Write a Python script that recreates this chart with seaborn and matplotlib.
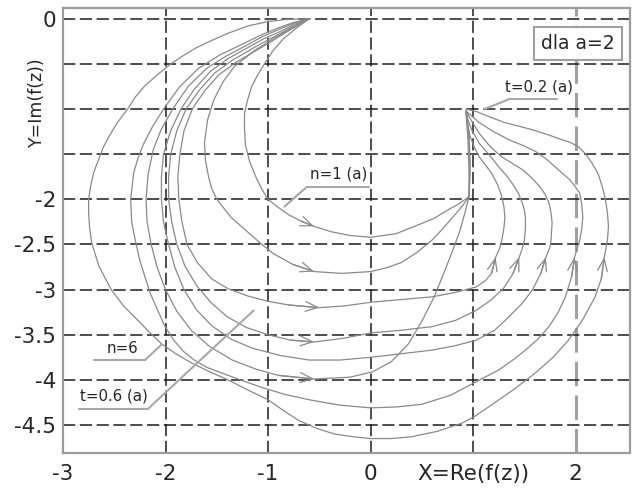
import matplotlib
matplotlib.use("Agg")
import matplotlib.pyplot as plt
import pandas as pd
import seaborn as sns

# Trajectories of f(z) in the complex plane, from the innermost loop (n=1) outwards
traj1_re = [-0.60, -0.72, -0.85, -0.95, -1.03, -1.10, -1.16, -1.20, -1.23, -1.23, -1.22, -1.18, -1.12, -1.06, -1.00, -0.90, -0.80, -0.68, -0.55, -0.38, -0.20, 0.00, 0.25, 0.47, 0.62, 0.75, 0.86, 0.96, 0.96, 0.95, 0.93]
traj1_im = [0.00, -0.10, -0.22, -0.35, -0.49, -0.62, -0.75, -0.90, -1.05, -1.22, -1.40, -1.58, -1.75, -1.89, -2.00, -2.09, -2.17, -2.24, -2.30, -2.36, -2.40, -2.42, -2.38, -2.28, -2.21, -2.12, -2.05, -1.97, -1.70, -1.35, -1.02]

traj2_re = [-0.60, -0.75, -0.92, -1.13, -1.33, -1.44, -1.53, -1.59, -1.62, -1.61, -1.58, -1.55, -1.50, -1.36, -1.19, -1.07, -0.95, -0.76, -0.55, -0.28, 0.00, 0.15, 0.30, 0.45, 0.60, 0.70, 0.80, 0.89, 0.96, 0.97, 0.96, 0.93]
traj2_im = [0.00, -0.09, -0.20, -0.35, -0.53, -0.70, -0.90, -1.12, -1.37, -1.57, -1.75, -1.88, -2.00, -2.20, -2.37, -2.49, -2.60, -2.72, -2.80, -2.82, -2.80, -2.76, -2.70, -2.59, -2.45, -2.33, -2.20, -2.08, -1.97, -1.70, -1.35, -1.02]

traj3_re = [-0.60, -0.72, -0.84, -0.98, -1.13, -1.31, -1.48, -1.62, -1.74, -1.82, -1.86, -1.88, -1.87, -1.84, -1.79, -1.69, -1.55, -1.39, -1.20, -1.00, -0.80, -0.50, -0.25, 0.00, 0.30, 0.60, 0.83, 1.03, 1.12, 1.18, 1.22, 1.26, 1.28, 1.30, 1.31, 1.30, 1.28, 1.24, 1.18, 1.12, 1.06, 1.01, 0.97, 0.94, 0.93]
traj3_im = [0.00, -0.08, -0.16, -0.26, -0.36, -0.48, -0.62, -0.80, -1.00, -1.24, -1.50, -1.75, -2.00, -2.25, -2.50, -2.70, -2.88, -2.99, -3.07, -3.13, -3.17, -3.20, -3.18, -3.14, -3.11, -3.08, -3.03, -2.97, -2.90, -2.82, -2.64, -2.54, -2.45, -2.32, -2.20, -2.08, -1.97, -1.84, -1.71, -1.62, -1.53, -1.42, -1.30, -1.15, -1.02]

traj4_re = [-0.60, -0.73, -0.86, -1.01, -1.17, -1.35, -1.52, -1.67, -1.80, -1.89, -1.95, -1.97, -1.97, -1.94, -1.89, -1.81, -1.70, -1.56, -1.40, -1.21, -1.00, -0.78, -0.55, -0.27, 0.00, 0.30, 0.60, 0.83, 1.03, 1.18, 1.30, 1.39, 1.45, 1.48, 1.50, 1.51, 1.51, 1.50, 1.48, 1.44, 1.38, 1.32, 1.25, 1.16, 1.06, 0.99, 0.95, 0.93]
traj4_im = [0.00, -0.07, -0.15, -0.24, -0.34, -0.46, -0.60, -0.79, -1.00, -1.24, -1.50, -1.75, -2.00, -2.25, -2.50, -2.74, -2.95, -3.14, -3.30, -3.42, -3.50, -3.56, -3.58, -3.54, -3.48, -3.45, -3.41, -3.34, -3.23, -3.11, -2.98, -2.82, -2.64, -2.54, -2.45, -2.32, -2.20, -2.12, -2.04, -1.93, -1.82, -1.73, -1.64, -1.51, -1.38, -1.24, -1.12, -1.02]

traj5_re = [-0.60, -0.74, -0.88, -1.04, -1.20, -1.39, -1.56, -1.72, -1.85, -1.95, -2.02, -2.04, -2.04, -2.02, -1.97, -1.91, -1.82, -1.70, -1.55, -1.36, -1.15, -0.88, -0.60, -0.30, 0.00, 0.30, 0.60, 0.83, 1.03, 1.21, 1.35, 1.48, 1.58, 1.66, 1.71, 1.75, 1.76, 1.77, 1.76, 1.74, 1.70, 1.65, 1.57, 1.48, 1.38, 1.28, 1.17, 1.06, 0.99, 0.93]
traj5_im = [0.00, -0.06, -0.14, -0.22, -0.32, -0.44, -0.58, -0.78, -1.00, -1.24, -1.50, -1.75, -2.00, -2.25, -2.50, -2.75, -3.00, -3.22, -3.40, -3.55, -3.65, -3.73, -3.78, -3.78, -3.75, -3.71, -3.67, -3.62, -3.56, -3.45, -3.30, -3.15, -3.00, -2.82, -2.64, -2.53, -2.45, -2.26, -2.15, -2.04, -1.94, -1.86, -1.76, -1.67, -1.60, -1.53, -1.42, -1.27, -1.14, -1.02]

traj6_re = [-0.60, -0.75, -0.90, -1.06, -1.22, -1.42, -1.60, -1.78, -1.93, -2.04, -2.12, -2.17, -2.19, -2.18, -2.14, -2.08, -2.00, -1.89, -1.75, -1.57, -1.35, -1.12, -0.90, -0.55, -0.20, 0.02, 0.20, 0.37, 0.50, 0.62, 0.72, 0.80, 0.87, 0.92, 0.96, 0.97, 0.96, 0.93]
traj6_im = [0.00, -0.05, -0.12, -0.20, -0.30, -0.42, -0.55, -0.75, -1.00, -1.22, -1.45, -1.72, -2.00, -2.25, -2.50, -2.76, -3.00, -3.24, -3.45, -3.63, -3.78, -3.88, -3.95, -3.99, -3.97, -3.91, -3.80, -3.60, -3.35, -3.08, -2.80, -2.57, -2.35, -2.15, -1.97, -1.60, -1.25, -1.02]

traj7_re = [-0.60, -0.75, -0.90, -1.07, -1.25, -1.47, -1.68, -1.86, -2.02, -2.13, -2.22, -2.27, -2.31, -2.34, -2.33, -2.29, -2.25, -2.20, -2.15, -2.08, -2.01, -1.92, -1.83, -1.72, -1.60, -1.46, -1.27, -1.07, -0.84, -0.60, -0.30, 0.00, 0.25, 0.50, 0.78, 1.03, 1.25, 1.40, 1.51, 1.63, 1.74, 1.83, 1.90, 1.96, 1.99, 2.04, 2.06, 2.07, 2.06, 2.04, 1.99, 1.94, 1.87, 1.80, 1.71, 1.61, 1.48, 1.35, 1.20, 1.06, 0.93]
traj7_im = [0.00, -0.04, -0.10, -0.18, -0.28, -0.40, -0.55, -0.75, -1.00, -1.20, -1.40, -1.55, -1.70, -2.00, -2.25, -2.48, -2.68, -2.86, -3.04, -3.22, -3.40, -3.56, -3.68, -3.78, -3.86, -3.92, -4.00, -4.08, -4.16, -4.22, -4.28, -4.31, -4.30, -4.27, -4.17, -4.02, -3.89, -3.77, -3.67, -3.55, -3.41, -3.25, -3.08, -2.86, -2.64, -2.45, -2.32, -2.20, -2.06, -1.93, -1.85, -1.78, -1.71, -1.64, -1.55, -1.47, -1.40, -1.34, -1.25, -1.15, -1.02]

traj8_re = [-0.60, -0.80, -1.00, -1.20, -1.39, -1.55, -1.70, -1.83, -1.95, -2.08, -2.20, -2.29, -2.37, -2.47, -2.55, -2.61, -2.65, -2.70, -2.73, -2.75, -2.75, -2.74, -2.72, -2.65, -2.53, -2.41, -2.27, -2.15, -2.04, -1.90, -1.75, -1.57, -1.39, -1.20, -1.00, -0.85, -0.70, -0.52, -0.35, -0.17, 0.00, 0.20, 0.40, 0.65, 0.89, 1.02, 1.15, 1.38, 1.60, 1.78, 1.93, 2.07, 2.19, 2.25, 2.28, 2.31, 2.32, 2.31, 2.29, 2.26, 2.22, 2.16, 2.10, 2.03, 1.95, 1.87, 1.72, 1.58, 1.45, 1.31, 1.17, 1.04, 0.93]
traj8_im = [0.00, -0.005, -0.03, -0.08, -0.16, -0.24, -0.32, -0.41, -0.50, -0.62, -0.74, -0.86, -1.00, -1.15, -1.30, -1.43, -1.55, -1.70, -1.85, -2.00, -2.15, -2.32, -2.48, -2.74, -3.00, -3.18, -3.34, -3.48, -3.60, -3.71, -3.81, -3.91, -4.00, -4.11, -4.22, -4.34, -4.45, -4.54, -4.60, -4.63, -4.65, -4.65, -4.63, -4.57, -4.48, -4.40, -4.30, -4.12, -3.93, -3.75, -3.56, -3.33, -3.08, -2.88, -2.64, -2.45, -2.30, -2.15, -2.00, -1.86, -1.72, -1.60, -1.50, -1.42, -1.37, -1.34, -1.28, -1.23, -1.19, -1.15, -1.09, -1.03, -1.00]

x_ticks = [-3, -2, -1, 0, 1, 2]
x_tick_labels = ["-3", "-2", "-1", "0", "X=Re(f(z))", "2"]
y_ticks = [0, -0.5, -1, -1.5, -2, -2.5, -3, -3.5, -4, -4.5]
y_tick_labels = ["0", "", "", "", "-2", "-2.5", "-3", "-3.5", "-4", "-4.5"]

paths = {
    "traj1": (traj1_re, traj1_im),
    "traj2": (traj2_re, traj2_im),
    "traj3": (traj3_re, traj3_im),
    "traj4": (traj4_re, traj4_im),
    "traj5": (traj5_re, traj5_im),
    "traj6": (traj6_re, traj6_im),
    "traj7": (traj7_re, traj7_im),
    "traj8": (traj8_re, traj8_im),
}

# which trajectories carry a direction arrow on the lower branch / on the rising right branch
lower_arrow_curves = ["traj1", "traj2", "traj3", "traj4", "traj6"]
right_arrow_curves = ["traj3", "traj4", "traj5", "traj7", "traj8"]
right_arrow_im = -2.64

rows = []
for name, (re_vals, im_vals) in paths.items():
    for k, (xr, yi) in enumerate(zip(re_vals, im_vals)):
        rows.append({"curve": name, "step": k, "re": xr, "im": yi})
df = pd.DataFrame(rows)

sns.set_theme(style="white")
plt.rcParams["font.family"] = ["DejaVu Sans"]

curve_color = "#8a8a8a"
text_color = "#262626"
leader_color = "#a8a8a8"

fig = plt.figure(figsize=(6.32, 4.90), dpi=100)
ax = fig.add_axes([63 / 632, 37 / 490, 567 / 632, 445 / 490])

sns.lineplot(data=df, x="re", y="im", units="curve", estimator=None, sort=False,
             color=curve_color, linewidth=0.9, legend=False, ax=ax)


def draw_arrow(re_vals, im_vals, i):
    ax.annotate("", xy=(re_vals[i], im_vals[i]), xytext=(re_vals[i - 1], im_vals[i - 1]),
                arrowprops=dict(arrowstyle="->,head_length=0.55,head_width=0.22",
                                color=curve_color, lw=0.9, shrinkA=0, shrinkB=0,
                                mutation_scale=16))


for name in lower_arrow_curves:
    re_vals, im_vals = paths[name]
    i = next(k for k, (xr, yi) in enumerate(zip(re_vals, im_vals)) if xr >= -0.56 and yi < -2.0)
    draw_arrow(re_vals, im_vals, i)

for name in right_arrow_curves:
    re_vals, im_vals = paths[name]
    i = im_vals.index(right_arrow_im)
    draw_arrow(re_vals, im_vals, i)

ax.set_xlim(-3.0, 2.53)
ax.set_ylim(-4.81, 0.12)
ax.set_xticks(x_ticks)
ax.set_xticklabels(x_tick_labels)
ax.set_yticks(y_ticks)
ax.set_yticklabels(y_tick_labels)
ax.set_xlabel("")
ax.set_ylabel("")
ax.text(-0.046, -0.92, "Y=Im(f(z))", transform=ax.get_yaxis_transform(), rotation=90,
        fontsize=12.5, color=text_color, ha="center", va="center")

ax.set_axisbelow(True)
ax.grid(True, color="#1c1c1c", linestyle=(0, (8, 3)), linewidth=1.1)
for tick_val, gl in zip(x_ticks, ax.get_xgridlines()):
    if tick_val == 2:
        gl.set_color("#a0a0a0")
        gl.set_linewidth(2.2)

ax.tick_params(axis="both", length=0, labelsize=15.5, labelcolor=text_color)
ax.tick_params(axis="x", pad=8)
ax.tick_params(axis="y", pad=5)

for side in ["left", "right", "top", "bottom"]:
    ax.spines[side].set_visible(True)
    ax.spines[side].set_color("#9c9c9c")
    ax.spines[side].set_linewidth(1.6)

# parameter box
ax.text(2.02, -0.27, "dla a=2", fontsize=13.5, color=text_color, ha="center", va="center",
        bbox=dict(boxstyle="square,pad=0.38", fc="white", ec="#a0a0a0", lw=1.5), zorder=5)

# underlined callouts with leader lines
callouts = [
    ("n=1 (a)", (-0.31, -1.72), (-0.62, -0.02), -1.86, (-0.84, -2.08)),
    ("t=0.2 (a)", (1.64, -0.76), (1.35, 1.82), -0.89, (1.11, -1.00)),
    ("n=6", (-2.42, -3.65), (-2.70, -2.20), -3.78, (-2.04, -3.61)),
    ("t=0.6 (a)", (-2.50, -4.18), (-2.84, -2.17), -4.32, (-1.14, -3.23)),
]
for label, (tx, ty), (u0, u1), uy, (px, py) in callouts:
    ax.text(tx, ty, label, fontsize=10.8, color=text_color, ha="center", va="center", zorder=5)
    ax.plot([u0, u1], [uy, uy], color=leader_color, lw=1.5, zorder=4)
    start = u0 if abs(u0 - px) < abs(u1 - px) else u1
    ax.plot([start, px], [uy, py], color=leader_color, lw=1.5, zorder=4)

fig.savefig("out.png", dpi=100)
